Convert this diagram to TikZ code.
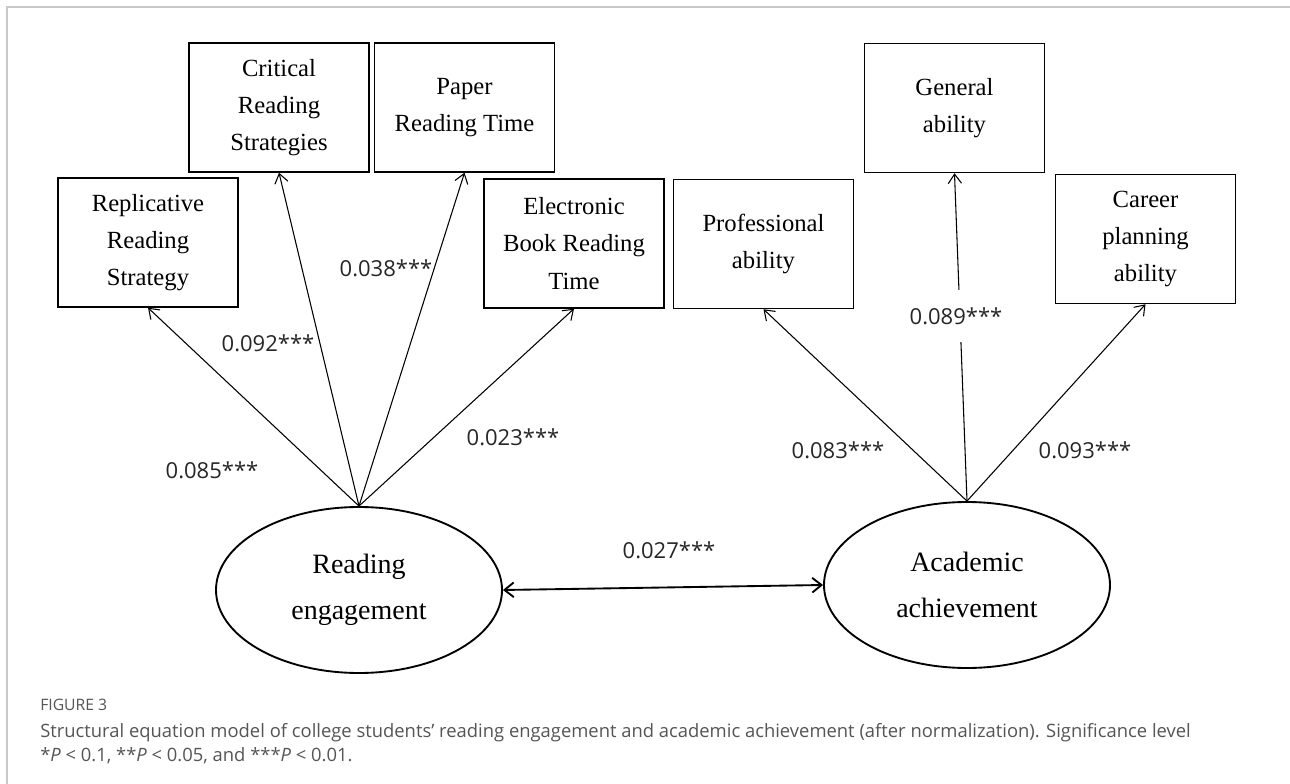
\documentclass[tikz,border=0pt]{standalone}
\usepackage{fontspec}
\setmainfont{Liberation Serif}
\newfontfamily\labelfont{Open Sans}
\usetikzlibrary{arrows.meta,shapes.geometric}
\definecolor{capgray}{HTML}{555555}
\definecolor{framegray}{HTML}{C8C8C8}
\begin{document}
\begin{tikzpicture}[x=0.75pt,y=-0.75pt,
 box/.style={draw,line width=1.1pt,minimum width=135pt,minimum height=96.75pt,inner sep=0pt,align=center,font=\fontsize{18.5}{27.8}\selectfont},
 latent/.style={draw,ellipse,line width=1.4pt,minimum width=214.5pt,minimum height=124.5pt,inner sep=0pt,align=center,font=\fontsize{21}{34.5}\selectfont},
 load/.style={-{Straight Barb[length=7pt,width=10pt]},line width=0.8pt},
 corr/.style={{Straight Barb[length=7pt,width=11pt]}-{Straight Barb[length=7pt,width=11pt]},line width=1.4pt},
 coef/.style={font=\labelfont\fontsize{16.5}{20}\selectfont,text=black!85,inner sep=1pt},
 capt/.style={font=\labelfont\fontsize{13.8}{17}\selectfont,text=capgray,inner sep=0pt},
 ]
\useasboundingbox (0,0) rectangle (1290,784);
\fill[white] (0,0) rectangle (1290,784);
\draw[framegray,line width=1.1pt] (7,784) -- (7,7) -- (1290,7);

% observed variables
\node[box] (rep) at (148,242.5) {Replicative\\Reading\\Strategy};
\node[box] (crit) at (279,107.5) {Critical\\Reading\\Strategies};
\node[box] (paper) at (464.5,107.5) {Paper\\Reading Time};
\node[box] (elec) at (574,243.5) {Electronic\\Book Reading\\Time};
\node[box] (prof) at (763.5,244) {Professional\\ability};
\node[box] (gen) at (954.5,108) {General\\ability};
\node[box] (car) at (1145.5,239) {Career\\planning\\ability};

% latent variables
\node[latent] (read) at (359,590) {Reading\\engagement};
\node[latent] (acad) at (967,585) {Academic\\achievement};

% loadings
\draw[load] (read.north) -- (rep.south);
\draw[load] (read.north) -- (crit.south);
\draw[load] (read.north) -- (paper.south);
\draw[load] (read.north) -- (elec.south);
\draw[load] (acad.north) -- (prof.south);
\draw[load] (acad.north) -- (gen.south);
\draw[load] (acad.north) -- (car.south);
\draw[corr] (read.east) -- (acad.west);

% coefficients
\node[coef] (c1) at (212,470) {0.085***};
\node[coef] (c2) at (268,343) {0.092***};
\node[coef] (c3) at (386,268) {0.038***};
\node[coef] (c4) at (513,437) {0.023***};
\node[coef] (c5) at (669,550) {0.027***};
\node[coef] (c6) at (838,450) {0.083***};
\node[coef,fill=white,inner xsep=3pt,inner ysep=13pt] (c7) at (956,316) {0.089***};
\node[coef] (c8) at (1085,450) {0.093***};

% caption
\node[capt,anchor=base west,font=\labelfont\fontsize{11.8}{13}\selectfont] (fig) at (40,710) {FIGURE 3};
\node[capt,anchor=base west] (cap1) at (40,737) {Structural equation model of college students’ reading engagement and academic achievement (after normalization). Significance level};
\node[capt,anchor=base west] (cap2) at (40,761) {*\textit{P} < 0.1, **\textit{P} < 0.05, and ***\textit{P} < 0.01.};
\end{tikzpicture}
\end{document}
